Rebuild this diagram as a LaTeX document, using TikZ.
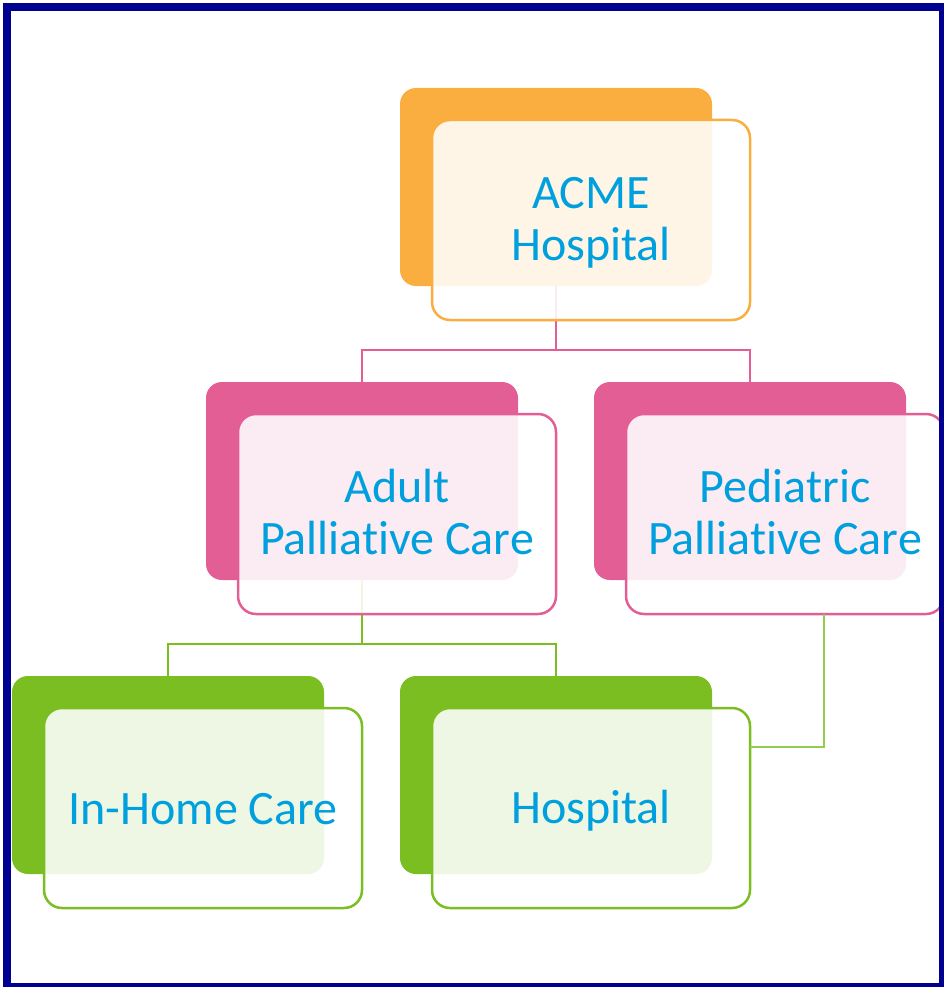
\documentclass[tikz,border=0pt]{standalone}
\usepackage{fontspec}
\setmainfont[Ligatures=NoCommon]{Carlito}
\definecolor{borderblue}{RGB}{0,0,145}
\definecolor{orangeA}{RGB}{251,174,64}
\definecolor{pinkA}{RGB}{228,94,150}
\definecolor{greenA}{RGB}{122,190,34}
\definecolor{greenL}{RGB}{146,204,80}
\definecolor{textblue}{RGB}{0,160,222}
\newcommand{\dn}[2]{\raisebox{0pt}[\dimexpr\height+#1\relax][\depth]{#2}}
\begin{document}
\begin{tikzpicture}[x=1pt,y=-1pt,
  backbox/.style={fill=#1, rounded corners=16pt, inner sep=0pt, outer sep=0pt,
    minimum width=312pt, minimum height=198pt, anchor=north west},
  frontbox/.style={draw=#1, line width=2.5pt, fill=white, fill opacity=0.88,
    draw opacity=1, text opacity=1, rounded corners=18pt, inner sep=0pt, outer sep=0pt,
    minimum width=318pt, minimum height=200pt, anchor=north west, text=textblue,
    font=\fontsize{48}{52}\selectfont, align=center},
  link/.style={draw=#1, line width=2pt}]
\useasboundingbox (0,0) rectangle (944,987);
% back boxes
\node[backbox=orangeA] (acmeB) at (400,88) {};
\node[backbox=pinkA] (adultB) at (206,382) {};
\node[backbox=pinkA] (pedB) at (594,382) {};
\node[backbox=greenA] (homeB) at (12,676) {};
\node[backbox=greenA] (hospB) at (400,676) {};
% connectors
\coordinate (pj) at (556,350);
\draw[link=pinkA] (acmeB.south) -- (pj) -| (adultB.north);
\draw[link=pinkA] (pj) -| (pedB.north);
\coordinate (gj) at (362,644);
\draw[link=greenA] (adultB.south) -- (gj) -| (homeB.north);
\draw[link=greenA] (gj) -| (hospB.north);
% front boxes
\node[frontbox=orangeA] (acmeF) at (432,120) {\dn{8pt}{\begin{tabular}{@{}c@{}}ACME\\Hospital\end{tabular}}};
\node[frontbox=pinkA] (adultF) at (238,414) {\dn{8pt}{\begin{tabular}{@{}c@{}}Adult\\Palliative Care\end{tabular}}};
\node[frontbox=pinkA] (pedF) at (626,414) {\dn{8pt}{\begin{tabular}{@{}c@{}}Pediatric\\Palliative Care\end{tabular}}};
\node[frontbox=greenA] (homeF) at (44,708) {\dn{2pt}{In-Home Care}};
\node[frontbox=greenA] (hospF) at (432,708) {\dn{6pt}{Hospital}};
% side connector
\coordinate (pk) at (824,614);
\coordinate (pe) at (824,747);
\draw[link=greenL, line width=1.5pt] (pk) -- (pe) -- (hospF.east |- pe);
% border
\draw[borderblue, line width=8pt] (7,7) rectangle (943,987);
\end{tikzpicture}
\end{document}
